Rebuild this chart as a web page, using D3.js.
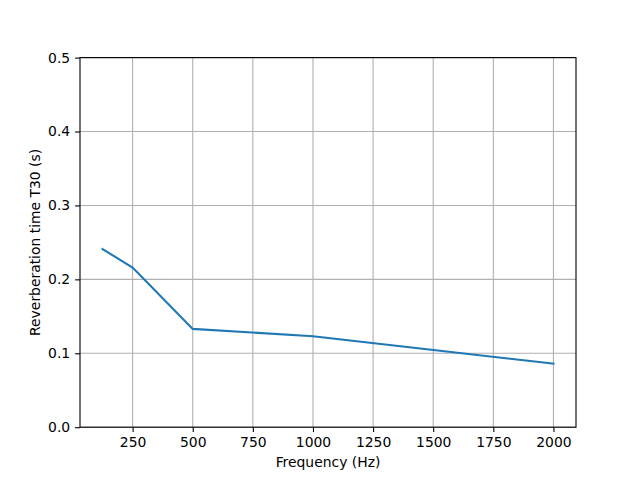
<!DOCTYPE html>
<html>
<head>
<meta charset="utf-8">
<script src="https://cdn.jsdelivr.net/npm/d3@7"></script>
<style>
  body { margin: 0; background: #fff; }
  text { font-family: "DejaVu Sans", sans-serif; }
</style>
</head>
<body>
<div id="chart"></div>
<script>
// octave band centres and measured T30
const frequencies = [125, 250, 500, 1000, 2000]
const t30 = [0.241, 0.216, 0.133, 0.123, 0.086]
const xTicks = [250, 500, 750, 1000, 1250, 1500, 1750, 2000]
const yTicks = [0.0, 0.1, 0.2, 0.3, 0.4, 0.5]

const width = 640
const height = 480
const margin = { top: 57.6, right: 64, bottom: 52.8, left: 80 }
const innerW = width - margin.left - margin.right
const innerH = height - margin.top - margin.bottom

// matplotlib style 5% padding on x
const pad = (d3.max(frequencies) - d3.min(frequencies)) * 0.05
const xScale = d3.scaleLinear()
  .domain([d3.min(frequencies) - pad, d3.max(frequencies) + pad])
  .range([0, innerW])
const yScale = d3.scaleLinear()
  .domain([0, 0.5])
  .range([innerH, 0])

const svg = d3.select('#chart').append('svg')
  .attr('width', width)
  .attr('height', height)

const g = svg.append('g').attr('transform', `translate(${margin.left},${margin.top})`)

// grid
g.append('g').selectAll('line').data(xTicks).join('line')
  .attr('x1', d => xScale(d)).attr('x2', d => xScale(d))
  .attr('y1', 0).attr('y2', innerH)
  .attr('stroke', '#b0b0b0').attr('stroke-width', 1.1)
g.append('g').selectAll('line').data(yTicks).join('line')
  .attr('y1', d => yScale(d)).attr('y2', d => yScale(d))
  .attr('x1', 0).attr('x2', innerW)
  .attr('stroke', '#b0b0b0').attr('stroke-width', 1.1)

// the line
const line = d3.line()
  .x((d, i) => xScale(frequencies[i]))
  .y(d => yScale(d))
g.append('path')
  .datum(t30)
  .attr('d', line)
  .attr('fill', 'none')
  .attr('stroke', '#1f77b4')
  .attr('stroke-width', 2.08)
  .attr('stroke-linecap', 'square')

// axes
const xAxis = d3.axisBottom(xScale).tickValues(xTicks).tickSize(4.9).tickPadding(4.9).tickFormat(d3.format('d'))
const yAxis = d3.axisLeft(yScale).tickValues(yTicks).tickSize(4.9).tickPadding(4.9).tickFormat(d3.format('.1f'))

const gx = g.append('g').attr('transform', `translate(0,${innerH})`).call(xAxis)
const gy = g.append('g').call(yAxis)
;[gx, gy].forEach(a => {
  a.select('.domain').remove()
  a.selectAll('line').attr('stroke', '#000').attr('stroke-width', 1.1)
  a.selectAll('text').attr('font-size', '13.9px').attr('fill', '#000').attr('font-family', 'DejaVu Sans')
})

// frame
g.append('rect')
  .attr('width', innerW).attr('height', innerH)
  .attr('fill', 'none').attr('stroke', '#000').attr('stroke-width', 1.1)

// labels
svg.append('text')
  .attr('x', margin.left + innerW / 2)
  .attr('y', 467)
  .attr('text-anchor', 'middle')
  .attr('font-size', '13.9px')
  .text('Frequency (Hz)')

svg.append('text')
  .attr('transform', `translate(40,${margin.top + innerH / 2}) rotate(-90)`)
  .attr('text-anchor', 'middle')
  .attr('font-size', '13.9px')
  .text('Reverberation time T30 (s)')
</script>
</body>
</html>
